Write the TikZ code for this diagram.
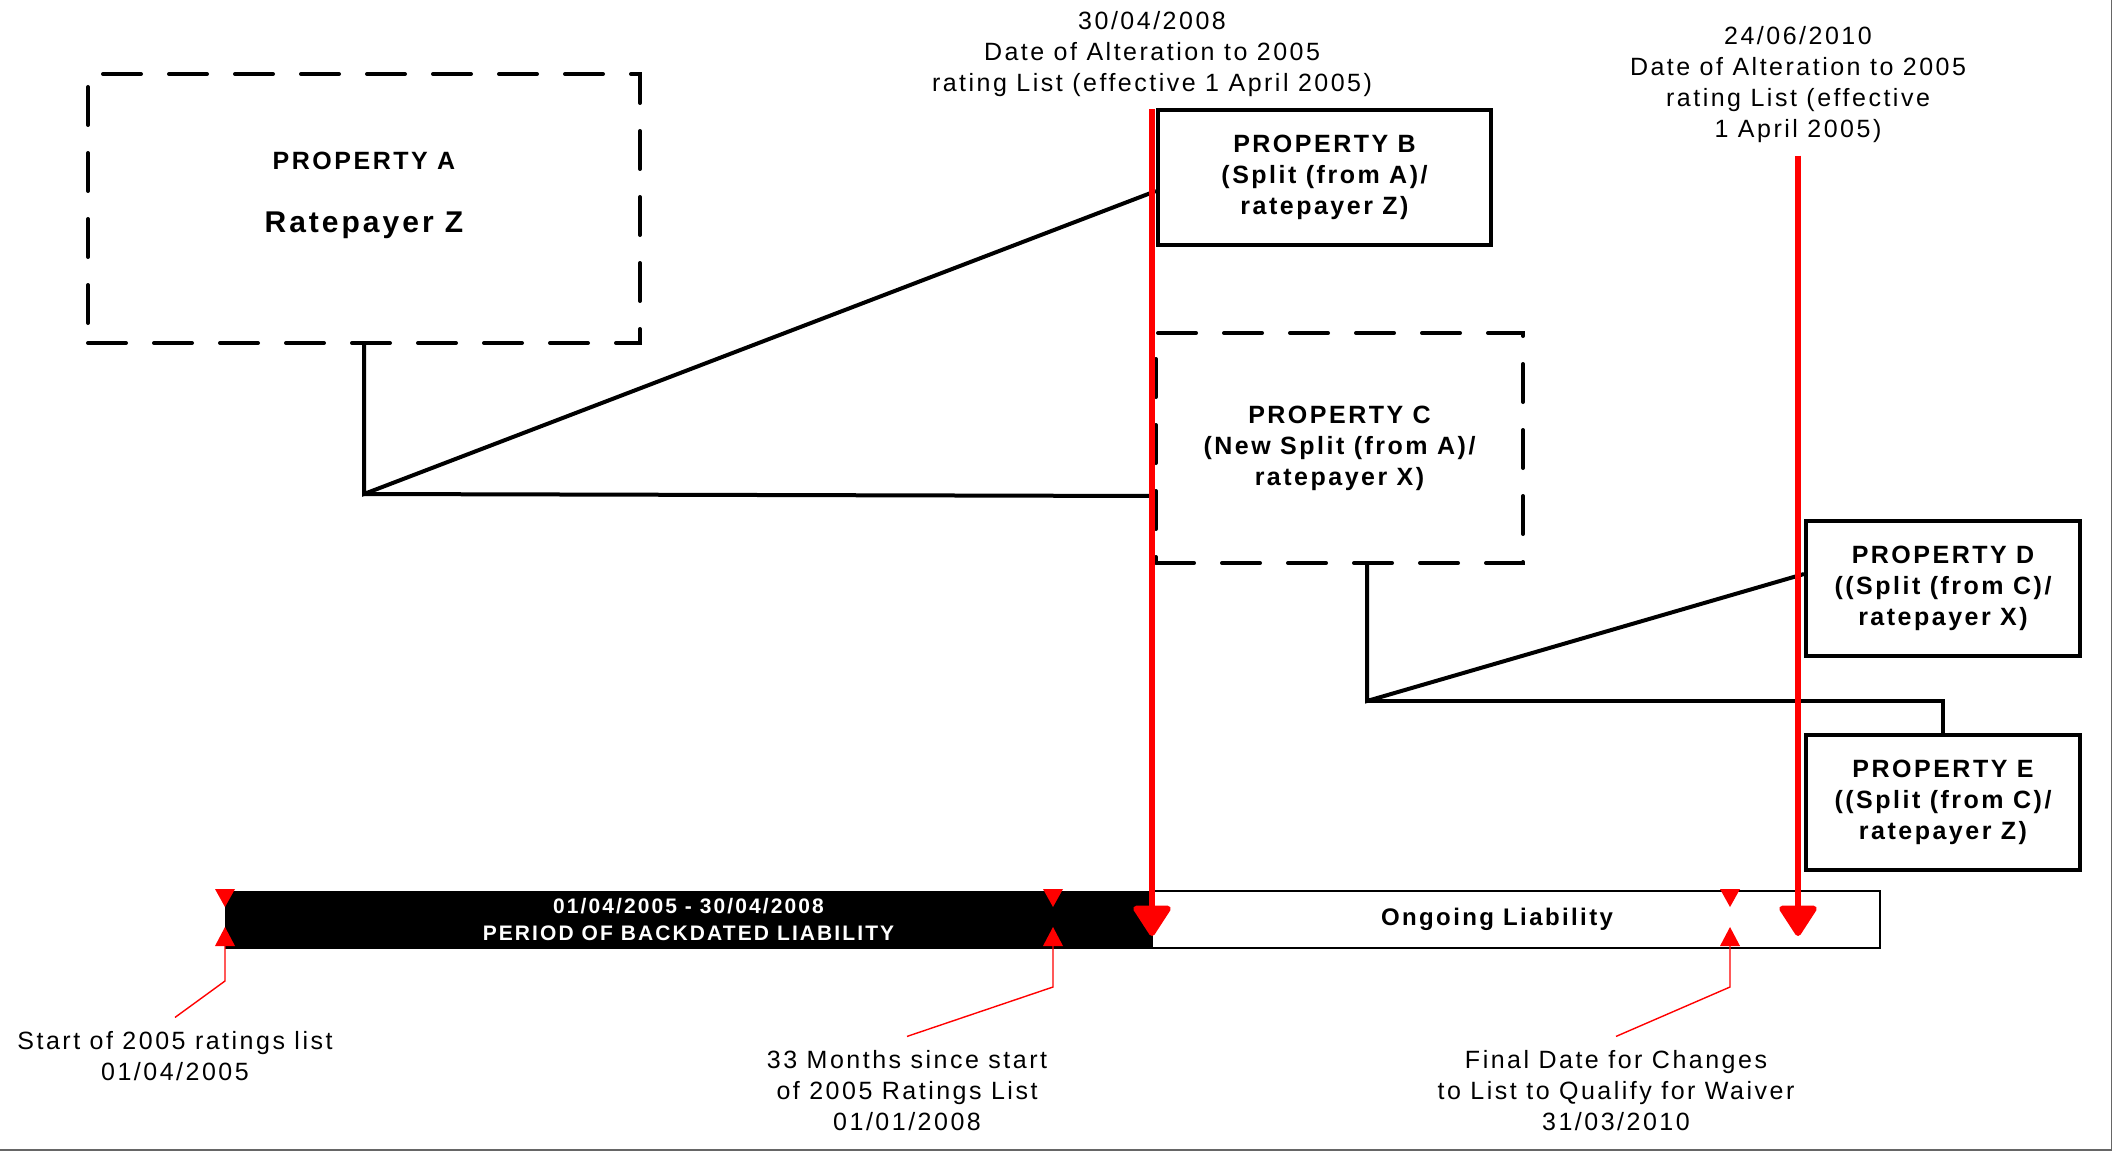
\documentclass[tikz,border=0pt]{standalone}
\usepackage{fontspec}
\setmainfont{Liberation Sans}[LetterSpace=10]
\usetikzlibrary{calc,arrows.meta}

\begin{document}
\begin{tikzpicture}[x=0.5pt,y=-0.5pt,
    txt/.style={align=center,inner sep=2pt,font=\fontsize{12.5}{15.5}\selectfont},
    propbox/.style={draw,line width=2pt,align=center,inner sep=0pt,font=\bfseries\fontsize{12.5}{15.5}\selectfont},
    propdash/.style={propbox,dash pattern=on 19pt off 14pt,line cap=round},
    link/.style={line width=2pt,black},
    alter/.style={red,line width=3pt,-{Triangle[length=16.5pt,width=20.5pt,round]}},
    lead/.style={red,line width=.7pt},
    bar/.style={minimum height=28.5pt,inner sep=0pt,align=center,font=\bfseries\fontsize{10.5}{13.5}\selectfont}]
\useasboundingbox (0,0) rectangle (2112,1150);
\draw[black!60,line width=1pt] (0,1149.5) -- (2111.5,1149.5) -- (2111.5,0);

% properties
\node[propdash,minimum width=276pt,minimum height=134.5pt] (A) at (364,208.5) {};
\node[txt,font=\bfseries] (Atext) at (364,195) {{\fontsize{12.5}{15}\selectfont PROPERTY A}\\[19.5pt]{\fontsize{15}{18}\selectfont Ratepayer Z}};
\node[propbox,minimum width=166.5pt,minimum height=67.5pt] (B) at (1324.5,177.5) {PROPERTY B\\(Split (from A)/\\ratepayer Z)};
\node[propdash,minimum width=183.5pt,minimum height=115pt] (C) at (1339.5,448) {PROPERTY C\\(New Split (from A)/\\ratepayer X)};
\node[propbox,minimum width=137pt,minimum height=67.5pt] (D) at (1943,588.5) {PROPERTY D\\((Split (from C)/\\ratepayer X)};
\node[propbox,minimum width=137pt,minimum height=67.5pt] (E) at (1943,802.5) {PROPERTY E\\((Split (from C)/\\ratepayer Z)};

% splits
\coordinate (jA) at ($(A.south)+(0,149)$);
\draw[link] (A.south) -- (jA) -- ([yshift=-6.75pt]B.west);
\draw[link] (jA) -- ([yshift=-24pt]C.west);
\coordinate (jC) at ($(C.south)+(27.5,136)$);
\draw[link] ($(C.south)+(27.5,0)$) -- (jC) -- ([yshift=7.25pt]D.west);
\draw[link] (jC) -| (E.north);

% timeline
\node[bar,fill=black,draw=black,text=white,minimum width=463.5pt] (past) at (688.5,919.5) {01/04/2005 - 30/04/2008\\PERIOD OF BACKDATED LIABILITY};
\node[bar,draw=black,line width=.8pt,minimum width=364pt,font=\bfseries\fontsize{12}{14}\selectfont] (ongoing) at (1516,919.5) {Ongoing Liability\hspace*{19pt}};

\foreach \x/\n in {225/m1,1053/m2,1730/m3} {
    \fill[red] (\x-10,889) -- (\x+10,889) -- (\x,907) -- cycle;
    \fill[red] (\x-10,946) -- (\x+10,946) -- (\x,927) -- cycle;
    \coordinate (\n) at (\x,946);}

% dates of alteration
\node[txt] (L1) at (1152,54) {30/04/2008\\Date of Alteration to 2005\\rating List (effective 1 April 2005)};
\node[txt] (L2) at (1798,85) {24/06/2010\\Date of Alteration to 2005\\rating List (effective\\1 April 2005)};
\coordinate (t1) at (1152,936);
\coordinate (t2) at (1798,936);
\draw[alter] ([yshift=-4pt]L1.south) -- (t1);
\draw[alter] ([yshift=-4pt]L2.south) -- (t2);

% notes under the bar
\node[txt] (S1) at (175,1056.5) {Start of 2005 ratings list\\01/04/2005};
\node[txt] (S2) at (907,1091) {33 Months since start\\of 2005 Ratings List\\01/01/2008};
\node[txt] (S3) at (1616,1091) {Final Date for Changes\\to List to Qualify for Waiver\\31/03/2010};
\draw[lead] (m1) -- ++(0,35) -- ([yshift=5pt]S1.north);
\draw[lead] (m2) -- ++(0,41) -- ([yshift=5pt]S2.north);
\draw[lead] (m3) -- ++(0,41) -- ([yshift=5pt]S3.north);
\end{tikzpicture}
\end{document}
